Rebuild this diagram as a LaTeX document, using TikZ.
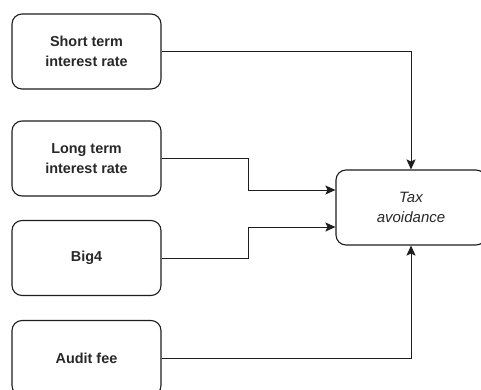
\documentclass[tikz,border=0pt]{standalone}
\usepackage{fontspec}
\setmainfont{Liberation Sans}
\usetikzlibrary{arrows.meta,positioning}
\definecolor{ink}{RGB}{30,30,30}
\definecolor{txt}{RGB}{40,40,40}
\tikzset{
  varbox/.style={draw=ink, line width=1.1pt, rounded corners=10pt, minimum width=149pt, minimum height=75pt, align=center, text=txt, font=\fontsize{14.4}{20}\selectfont\bfseries, inner sep=0pt},
  outbox/.style={draw=ink, line width=1.1pt, rounded corners=10pt, minimum width=150pt, minimum height=75pt, align=center, text=txt, font=\fontsize{15}{19.5}\selectfont\itshape, inner sep=0pt},
  link/.style={draw=ink, line width=1pt, -{Stealth[length=10pt,width=9pt,inset=2pt]}}
}
\begin{document}
\begin{tikzpicture}[x=1pt,y=-1pt]
\useasboundingbox (0,0) rectangle (481,390);
\clip (0,0) rectangle (481,390);
\fill[white] (0,0) rectangle (481,390);
\node[varbox] (st) at (86.5,51.5) {Short term\\interest rate};
\node[varbox] (lt) at (86.5,158.5) {Long term\\interest rate};
\node[varbox] (b4) at (86.5,258) {Big4};
\node[varbox] (af) at (86.5,358) {Audit fee};
\node[outbox] (ta) at (411,207.5) {Tax\\avoidance};
\coordinate (ma) at (248,190);
\coordinate (mb) at (248,227);
\draw[link] (st.east) -| (ta.north);
\draw[link] (af.east) -| (ta.south);
\draw[link] (lt.east) -| (ma) -- (ma -| ta.west);
\draw[link] (b4.east) -| (mb) -- (mb -| ta.west);
\end{tikzpicture}
\end{document}
